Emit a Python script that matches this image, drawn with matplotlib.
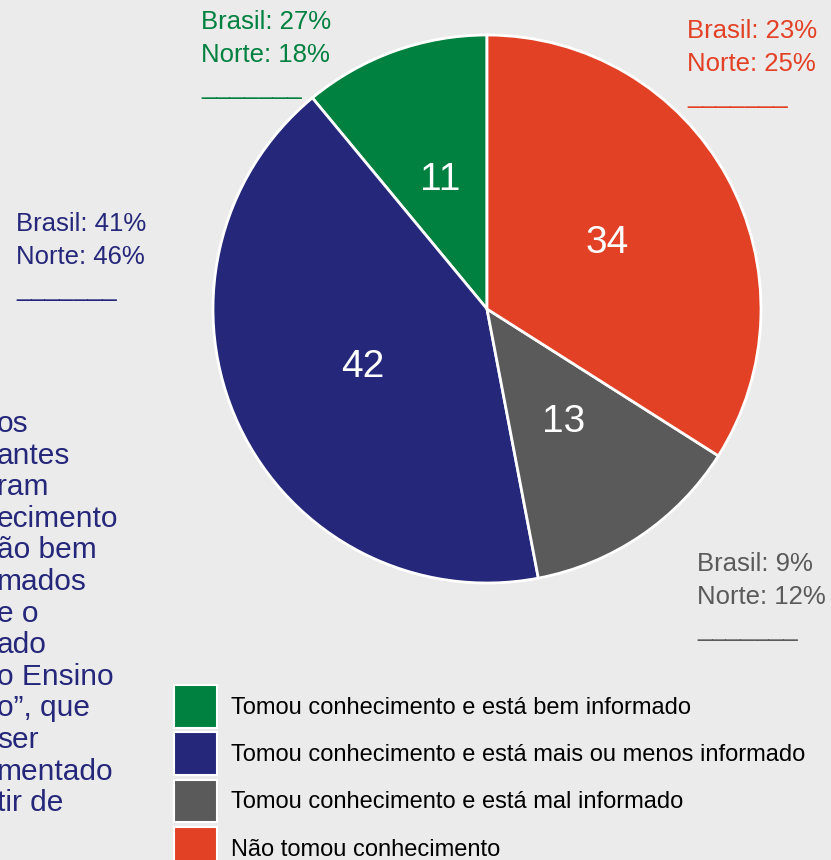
import matplotlib
matplotlib.use('Agg')
import matplotlib.pyplot as plt
from matplotlib.patches import Patch

plt.rcParams['font.family'] = ['Liberation Sans', 'DejaVu Sans']

# dados
categorias = ['Tomou conhecimento e está bem informado',
              'Tomou conhecimento e está mais ou menos informado',
              'Tomou conhecimento e está mal informado',
              'Não tomou conhecimento']
valores = [11, 42, 13, 34]
brasil = [27, 41, 9, 23]
norte = [18, 46, 12, 25]
cores = ['#00813f', '#24277a', '#5a5a5a', '#e34126']

texto_esq = ['os', 'antes', 'ram', 'ecimento', 'ão bem', 'mados', 'e o',
             'ado', 'o Ensino', 'o\u201d, que', 'ser', 'mentado', 'tir de']

W, H = 831, 860
fundo = '#ebebeb'


def fx(px):
    return px / W


def fy(py):
    return 1 - py / H


fig = plt.figure(figsize=(W / 100, H / 100), dpi=100, facecolor=fundo)

# pizza
cx, cy, r = 487, 309, 274
ax = fig.add_axes([fx(cx - r), fy(cy + r), 2 * r / W, 2 * r / H])
ax.pie(valores, colors=cores, startangle=90, counterclock=True,
       autopct=lambda p: f'{p:.0f}', pctdistance=0.5,
       wedgeprops=dict(edgecolor='white', linewidth=2),
       textprops=dict(color='white', fontsize=28))
ax.set_xlim(-1, 1)
ax.set_ylim(-1, 1)
ax.set_aspect('auto')
ax.axis('off')

# rotulos Brasil / Norte
pos_rotulos = [(201, 10), (16, 212), (697, 552), (687, 19)]
for i, (px, py) in enumerate(pos_rotulos):
    fig.text(fx(px), fy(py), f'Brasil: {brasil[i]}%\nNorte: {norte[i]}%\n_______',
             color=cores[i], fontsize=18.5, ha='left', va='top', linespacing=1.45)

# texto cortado a esquerda
for i, t in enumerate(texto_esq):
    fig.text(fx(-3), fy(424 + i * 31.6), t, color='#24277a', fontsize=21.5,
             ha='left', va='center')

# legenda
handles = [Patch(facecolor=c, edgecolor='white', linewidth=1.5) for c in cores]
fig.legend(handles, categorias, loc='upper left',
           bbox_to_anchor=(fx(174), fy(685)), frameon=False,
           fontsize=17, handlelength=1.8, handleheight=2.4,
           handletextpad=0.6, labelspacing=0.2, borderpad=0,
           borderaxespad=0)

fig.savefig('out.png', dpi=100, facecolor=fundo)
